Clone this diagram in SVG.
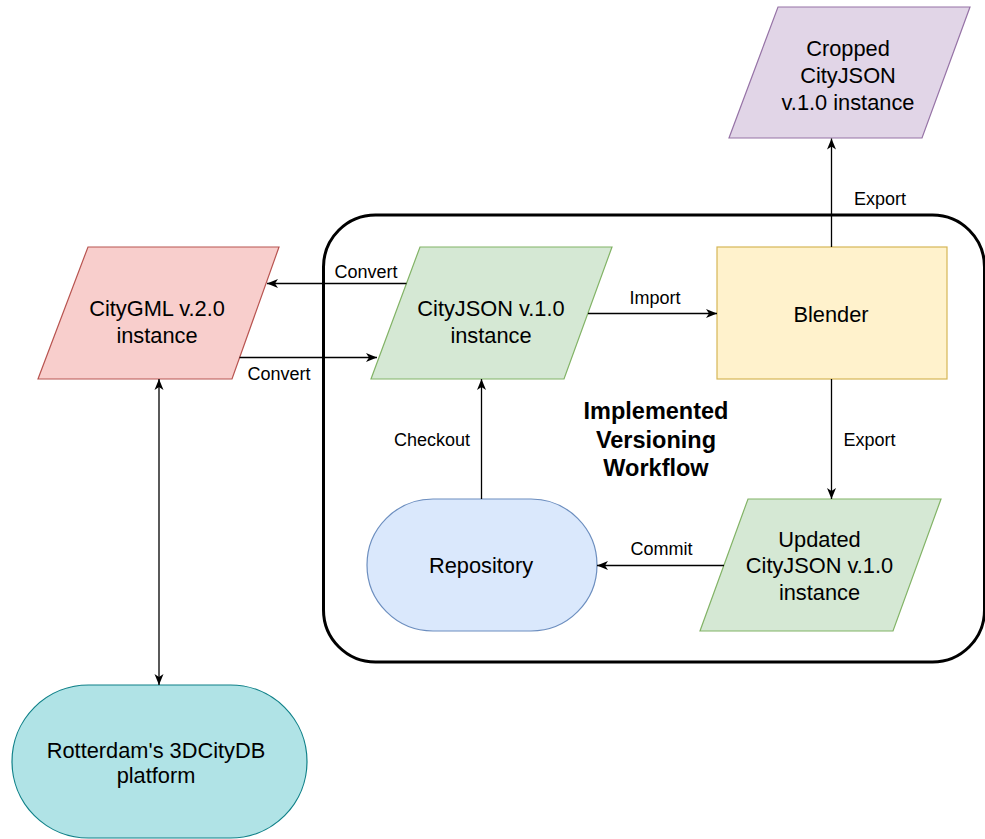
<svg xmlns="http://www.w3.org/2000/svg" width="985" height="839" viewBox="0 0 985 839">
<style>
.node{font-family:"Liberation Sans",Arial,sans-serif;font-size:21.8px;fill:#000;text-anchor:middle}
.lbl{font-family:"Liberation Sans",Arial,sans-serif;font-size:18px;fill:#000;text-anchor:middle}
.title{font-family:"Liberation Sans",Arial,sans-serif;font-size:23.5px;font-weight:bold;fill:#000;text-anchor:middle}
.edge{fill:none;stroke:#000;stroke-width:1.3}
</style>
<defs>
<marker id="arr" markerUnits="userSpaceOnUse" markerWidth="12" markerHeight="10" viewBox="0 0 12 10" refX="11" refY="5" orient="auto-start-reverse">
<path d="M0,0.5 L11,5 L0,9.5 L3,5 z" fill="#000"/>
</marker>
</defs>
<rect width="985" height="839" fill="#fff"/>
<g id="workflow">
<rect x="323.5" y="215" width="661" height="447" rx="52" ry="52" fill="none" stroke="#000" stroke-width="3"/>
<text class="title" x="656" y="419">Implemented</text>
<text class="title" x="656" y="448">Versioning</text>
<text class="title" x="656" y="476">Workflow</text>
</g>
<g id="cropped">
<polygon points="778,7 970,7 922,138 729,138" fill="#e1d5e7" stroke="#9673a6" stroke-width="1.2"/>
<text class="node" x="848" y="56">Cropped</text>
<text class="node" x="848" y="83">CityJSON</text>
<text class="node" x="848" y="109.5">v.1.0 instance</text>
</g>
<g id="citygml">
<polygon points="88,247 279,247 232,379 38,379" fill="#f8cecc" stroke="#b85450" stroke-width="1.2"/>
<text class="node" x="157" y="316">CityGML v.2.0</text>
<text class="node" x="157" y="343">instance</text>
</g>
<g id="cityjson">
<polygon points="420,247 612,247 564,379 371,379" fill="#d5e8d4" stroke="#82b366" stroke-width="1.2"/>
<text class="node" x="491" y="316">CityJSON v.1.0</text>
<text class="node" x="491" y="343">instance</text>
</g>
<g id="blender">
<rect x="717" y="247" width="230" height="132" fill="#fff2cc" stroke="#d6b656" stroke-width="1.2"/>
<text class="node" x="831" y="321.5">Blender</text>
</g>
<g id="repository">
<rect x="367" y="499" width="230" height="132" rx="66" ry="66" fill="#dae8fc" stroke="#6c8ebf" stroke-width="1.2"/>
<text class="node" x="481" y="573">Repository</text>
</g>
<g id="updated">
<polygon points="748,499 941,499 893,631 700,631" fill="#d5e8d4" stroke="#82b366" stroke-width="1.2"/>
<text class="node" x="819.5" y="547">Updated</text>
<text class="node" x="819.5" y="573">CityJSON v.1.0</text>
<text class="node" x="819.5" y="599.5">instance</text>
</g>
<g id="rotterdam">
<rect x="12" y="685" width="295" height="153" rx="76.5" ry="76.5" fill="#b0e3e6" stroke="#0e8088" stroke-width="1.2"/>
<text class="node" x="156" y="757.5">Rotterdam's 3DCityDB</text>
<text class="node" x="156" y="783">platform</text>
</g>
<g id="connectors">
<path class="edge" d="M406.5,283.5 H267" marker-end="url(#arr)"/>
<text class="lbl" x="366" y="278">Convert</text>
<path class="edge" d="M239.5,357.5 H377" marker-end="url(#arr)"/>
<text class="lbl" x="279" y="380">Convert</text>
<path class="edge" d="M588,313.5 H717" marker-end="url(#arr)"/>
<text class="lbl" x="655" y="303.5">Import</text>
<path class="edge" d="M831.5,247 V138.5" marker-end="url(#arr)"/>
<text class="lbl" x="880" y="205">Export</text>
<path class="edge" d="M831.5,379 V499" marker-end="url(#arr)"/>
<text class="lbl" x="869.5" y="445.5">Export</text>
<path class="edge" d="M724,565.5 H597" marker-end="url(#arr)"/>
<text class="lbl" x="661.5" y="555">Commit</text>
<path class="edge" d="M481.5,499 V379" marker-end="url(#arr)"/>
<text class="lbl" x="432" y="445.5">Checkout</text>
<path class="edge" d="M159,379 V685" marker-start="url(#arr)" marker-end="url(#arr)"/>
</g>
</svg>
